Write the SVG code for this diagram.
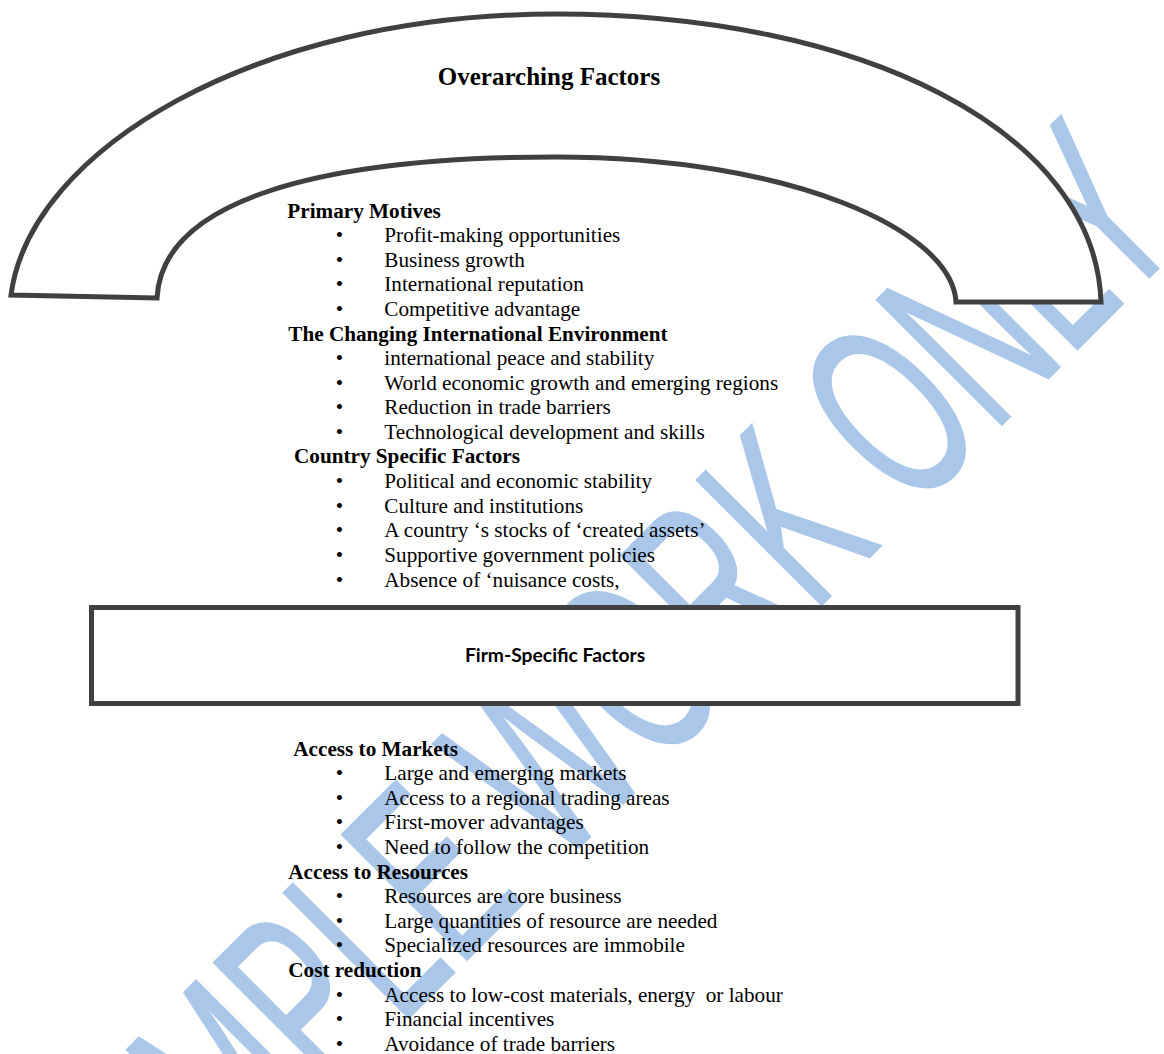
<svg xmlns="http://www.w3.org/2000/svg" width="1164" height="1054" viewBox="0 0 1164 1054">
  <style>
    .shape{fill:#fff;stroke:#404040;stroke-width:5;stroke-linejoin:miter}
    .title{font-family:"Liberation Serif","Times New Roman",serif;font-weight:bold;font-size:25px;fill:#000}
    .head{font-family:"Liberation Serif","Times New Roman",serif;font-weight:bold;font-size:21.2px;fill:#000}
    .item{font-family:"Liberation Serif","Times New Roman",serif;font-size:21.2px;fill:#000}
    .bul{font-family:"Liberation Serif","Times New Roman",serif;font-size:21.2px;fill:#000;text-anchor:middle}
    .box-label{font-family:Lato,"Liberation Sans",sans-serif;font-weight:bold;font-size:19.3px;fill:#000;text-anchor:middle}
    .wm{font-family:"Liberation Sans",Arial,sans-serif;font-size:148px;fill:#aac7ea;stroke:#aac7ea;stroke-width:1.5;vector-effect:non-scaling-stroke}
  </style>

  <rect width="1164" height="1054" fill="#fff"/>

  <!-- diagonal watermark, behind the shapes -->
  <g id="watermark">
    <text class="wm" transform="translate(103.4,1323.5) rotate(-45) scale(1,1.74)">SAMPLE WORK ONLY</text>
  </g>

  <g id="connectors"/>

  <!-- arch -->
  <g id="overarching-factors">
    <path class="shape" d="M 11,295 C 30,150 255,14 556,14 C 860,14 1095,130 1101,302 L 956,302 C 952,230 790,157 556,157 C 320,157 162,200 157,298 Z"/>
    <text class="title" x="549" y="85" text-anchor="middle">Overarching Factors</text>
  </g>

  <!-- firm box -->
  <g id="firm-specific-factors">
    <rect class="shape" x="91.5" y="607.5" width="926.5" height="96"/>
    <text class="box-label" x="555" y="662">Firm-Specific Factors</text>
  </g>

  <g id="primary-motives">
    <text class="head" x="287.3" y="218.3">Primary Motives</text>
    <text class="bul" x="339.5" y="242.3">•</text><text class="item" x="384.3" y="242.3">Profit-making opportunities</text>
    <text class="bul" x="339.5" y="266.8">•</text><text class="item" x="384.3" y="266.8">Business growth</text>
    <text class="bul" x="339.5" y="291.4">•</text><text class="item" x="384.3" y="291.4">International reputation</text>
    <text class="bul" x="339.5" y="316">•</text><text class="item" x="384.3" y="316">Competitive advantage</text>
  </g>

  <g id="changing-international-environment">
    <text class="head" x="288.3" y="340.6">The Changing International Environment</text>
    <text class="bul" x="339.5" y="365.2">•</text><text class="item" x="384.3" y="365.2">international peace and stability</text>
    <text class="bul" x="339.5" y="389.7">•</text><text class="item" x="384.3" y="389.7">World economic growth and emerging regions</text>
    <text class="bul" x="339.5" y="414.3">•</text><text class="item" x="384.3" y="414.3">Reduction in trade barriers</text>
    <text class="bul" x="339.5" y="438.9">•</text><text class="item" x="384.3" y="438.9">Technological development and skills</text>
  </g>

  <g id="country-specific-factors">
    <text class="head" x="294" y="463.4">Country Specific Factors</text>
    <text class="bul" x="339.5" y="488">•</text><text class="item" x="384.3" y="488">Political and economic stability</text>
    <text class="bul" x="339.5" y="512.6">•</text><text class="item" x="384.3" y="512.6">Culture and institutions</text>
    <text class="bul" x="339.5" y="537.1">•</text><text class="item" x="384.3" y="537.1">A country ‘s stocks of ‘created assets’</text>
    <text class="bul" x="339.5" y="561.7">•</text><text class="item" x="384.3" y="561.7">Supportive government policies</text>
    <text class="bul" x="339.5" y="586.5">•</text><text class="item" x="384.3" y="586.5">Absence of ‘nuisance costs,</text>
  </g>

  <g id="access-to-markets">
    <text class="head" x="293.3" y="755.6">Access to Markets</text>
    <text class="bul" x="339.5" y="780.1">•</text><text class="item" x="384.3" y="780.1">Large and emerging markets</text>
    <text class="bul" x="339.5" y="804.7">•</text><text class="item" x="384.3" y="804.7">Access to a regional trading areas</text>
    <text class="bul" x="339.5" y="829.3">•</text><text class="item" x="384.3" y="829.3">First-mover advantages</text>
    <text class="bul" x="339.5" y="853.9">•</text><text class="item" x="384.3" y="853.9">Need to follow the competition</text>
  </g>

  <g id="access-to-resources">
    <text class="head" x="288.3" y="878.5">Access to Resources</text>
    <text class="bul" x="339.5" y="903.1">•</text><text class="item" x="384.3" y="903.1">Resources are core business</text>
    <text class="bul" x="339.5" y="927.7">•</text><text class="item" x="384.3" y="927.7">Large quantities of resource are needed</text>
    <text class="bul" x="339.5" y="952.3">•</text><text class="item" x="384.3" y="952.3">Specialized resources are immobile</text>
  </g>

  <g id="cost-reduction">
    <text class="head" x="288.3" y="977">Cost reduction</text>
    <text class="bul" x="339.5" y="1001.8">•</text><text class="item" x="384.3" y="1001.8" xml:space="preserve">Access to low-cost materials, energy  or labour</text>
    <text class="bul" x="339.5" y="1026.4">•</text><text class="item" x="384.3" y="1026.4">Financial incentives</text>
    <text class="bul" x="339.5" y="1051">•</text><text class="item" x="384.3" y="1051">Avoidance of trade barriers</text>
  </g>
</svg>
